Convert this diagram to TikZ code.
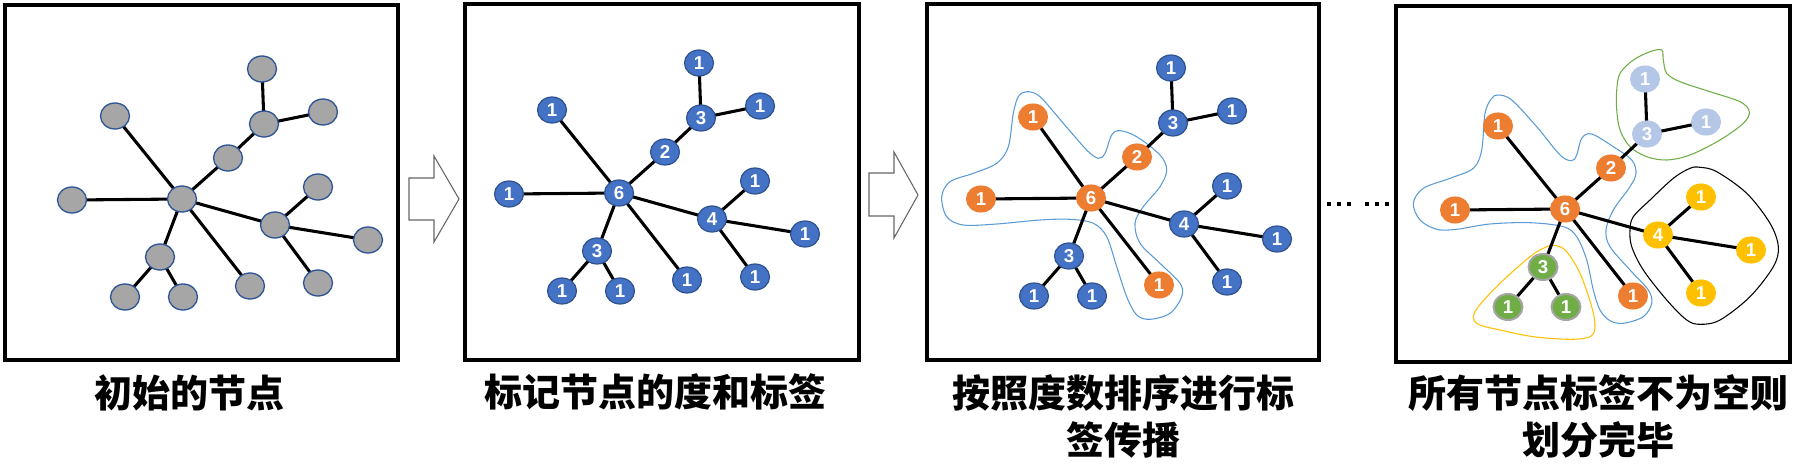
\documentclass[tikz,border=0pt]{standalone}
\usepackage{fontspec}
\newfontfamily\cjk{Noto Sans CJK SC}
\newfontfamily\numfont{Liberation Sans}
\usetikzlibrary{shapes.geometric}
\pgfdeclarelayer{bg}
\pgfsetlayers{bg,main}
\definecolor{ngray}{HTML}{A6A6A6}
\definecolor{nborder}{HTML}{2F5597}
\definecolor{nblue}{HTML}{4472C4}
\definecolor{nbluedk}{HTML}{2F528F}
\definecolor{norange}{HTML}{ED7D31}
\definecolor{nlight}{HTML}{B4C7E7}
\definecolor{ngreen}{HTML}{70AD47}
\definecolor{ngreenbd}{HTML}{A5A5A5}
\definecolor{nyellow}{HTML}{FFC000}
\definecolor{blobblue}{HTML}{5B9BD5}
\tikzset{
  vnode/.style={ellipse, inner sep=0pt, minimum width=21.75pt, minimum height=19.5pt,
    text=white, font=\numfont\bfseries\fontsize{14}{14}\selectfont},
  graynode/.style={vnode, fill=ngray, draw=nborder, line width=1pt},
  bluenode/.style={vnode, fill=nblue, draw=nbluedk, line width=0.9pt},
  orangenode/.style={vnode, fill=norange, draw=norange, line width=0.8pt},
  lightnode/.style={vnode, fill=nlight, draw=nlight, line width=0.8pt},
  greennode/.style={vnode, fill=ngreen, draw=ngreenbd, line width=1.5pt},
  yellownode/.style={vnode, fill=nyellow, draw=nyellow, line width=0.8pt},
  edge/.style={line width=2.3pt, black},
  frame/.style={line width=2.3pt, black},
  blob/.style={line width=0.8pt},
  bigarrow/.style={draw=black!60, line width=0.8pt, fill=white},
  caption/.style={font=\cjk\bfseries\fontsize{28.5}{35}\selectfont, align=center, inner sep=0pt},
  gC/.style={bluenode}, gA/.style={bluenode}, gB/.style={bluenode}, gD/.style={bluenode}
}
\newcommand\lb[1]{#1}
\newcommand\tgraph[3]{%
  \begin{scope}[shift={#2}]
    \node[gC] (#1c6) at (0,0) {\lb{6}};
    \node[gC] (#1a2) at (46,-41) {\lb{2}};
    \node[gA] (#1a3) at (82,-75) {\lb{3}};
    \node[gA] (#1at) at (80,-130) {\lb{1}};
    \node[gA] (#1ar) at (141,-87) {\lb{1}};
    \node[gC] (#1ul) at #3 {\lb{1}};
    \node[gC] (#1l) at (-110,1) {\lb{1}};
    \node[gB] (#1b4) at (93,26) {\lb{4}};
    \node[gB] (#1ba) at (136,-12) {\lb{1}};
    \node[gB] (#1bb) at (186,41) {\lb{1}};
    \node[gB] (#1bc) at (136,84) {\lb{1}};
    \node[gD] (#1d3) at (-22,58) {\lb{3}};
    \node[gD] (#1da) at (-57,98) {\lb{1}};
    \node[gD] (#1db) at (1,98) {\lb{1}};
    \node[gC] (#1e) at (68,87) {\lb{1}};
  \end{scope}
  \begin{pgfonlayer}{bg}
    \draw[edge] (#1c6.center) -- (#1a2.center) -- (#1a3.center) -- (#1at.center);
    \draw[edge] (#1a3.center) -- (#1ar.center);
    \draw[edge] (#1c6.center) -- (#1ul.center);
    \draw[edge] (#1c6.center) -- (#1l.center);
    \draw[edge] (#1c6.center) -- (#1b4.center) -- (#1ba.center);
    \draw[edge] (#1b4.center) -- (#1bb.center);
    \draw[edge] (#1b4.center) -- (#1bc.center);
    \draw[edge] (#1c6.center) -- (#1d3.center) -- (#1da.center);
    \draw[edge] (#1d3.center) -- (#1db.center);
    \draw[edge] (#1c6.center) -- (#1e.center);
  \end{pgfonlayer}
}
\begin{document}
\begin{tikzpicture}[x=0.75pt,y=-0.75pt]
\useasboundingbox (0,0) rectangle (1798,467);
% frames
\draw[frame] (5,5) rectangle (398,360);
\draw[frame] (465,4) rectangle (859,360);
\draw[frame] (927,4) rectangle (1319,360);
\draw[frame] (1396,6) rectangle (1790,362);
% block arrows
\draw[bigarrow] (409,178) -- (434,178) -- (434,156) -- (459,199) -- (434,242) -- (434,220) -- (409,220) -- cycle;
\draw[bigarrow] (869,173) -- (894,173) -- (894,152) -- (918,195) -- (894,238) -- (894,216) -- (869,216) -- cycle;
% dots
\foreach \dx in {1329,1339,1349,1367,1377,1387}
  \fill (\dx-1.6,202.4) rectangle (\dx+1.6,205.6);
% panel 1
\begin{scope}[gC/.style={graynode}, gA/.style={graynode}, gB/.style={graynode}, gD/.style={graynode}]
  \renewcommand\lb[1]{}
  \tgraph{p}{(182,199)}{(-67,-83)}
\end{scope}
% panel 2
\tgraph{q}{(619,193)}{(-67,-83)}
% panel 3
\begin{pgfonlayer}{bg}
\draw[blob, blobblue] plot[smooth cycle, tension=0.55] coordinates {
(941.7,196.7) (950,181.7) (973.3,173.3) (996.7,163.3) (1008.3,146.7) (1013.3,113.3)
(1018.3,96.7) (1026.7,91.7) (1040,96.7) (1063.3,123.3) (1086.7,150) (1098.3,158.3)
(1105,153.3) (1111.7,135) (1120,130.7) (1136.7,136.7) (1160,155) (1166.7,170)
(1160,186.7) (1143.3,206.7) (1135,223.3) (1140,243.3) (1160,263.3) (1180,283.3)
(1181.7,296.7) (1170,313.3) (1150,319.3) (1136.7,315) (1126.7,296.7) (1116.7,266.7)
(1106.7,236.7) (1093.3,223.3) (1070,219.3) (1040,220) (996.7,224) (963.3,225) (946.7,216.7)};
\end{pgfonlayer}
\begin{scope}[gC/.style={orangenode}]
  \tgraph{r}{(1091,198)}{(-58,-81)}
\end{scope}
% panel 4
\begin{pgfonlayer}{bg}
\draw[blob, blobblue] plot[smooth cycle, tension=0.55] coordinates {
(1413.3,203.3) (1423.3,188.3) (1450,178.3) (1473.3,168.3) (1481.7,150) (1485,113.3)
(1491.7,98.3) (1498.3,95) (1511.7,100) (1536.7,126.7) (1560,155) (1571.7,160.7)
(1576.7,155) (1581.7,138.3) (1591.7,134) (1613.3,146.7) (1631.7,160) (1636,173.3)
(1630,186.7) (1613.3,210) (1606,230) (1610,246.7) (1630,270) (1648.3,290)
(1651.7,303.3) (1643.3,316.7) (1623.3,323.3) (1610,320.7) (1600,310) (1593.3,290)
(1586.7,260) (1576.7,236.7) (1563.3,226.7) (1530,222.7) (1490,224) (1456.7,229.3)
(1436.7,229.3) (1420,220)};
\draw[blob, ngreen] plot[smooth cycle, tension=0.55] coordinates {
(1616.7,90) (1620,73.3) (1633.3,60) (1650,51.7) (1661.7,50) (1663.3,60) (1666.7,73.3)
(1680,81.7) (1710,91.7) (1740,101.7) (1749.3,111.7) (1743.3,123.3) (1720,140)
(1690,155) (1666.7,160) (1646.7,156.7) (1630,146.7) (1620,130) (1616.7,110)};
\draw[blob, black] plot[smooth cycle, tension=0.55] coordinates {
(1630,230) (1633.3,216.7) (1650,200) (1673.3,178.3) (1690,168.3) (1700,167.3)
(1716.7,171.7) (1746.7,193.3) (1770,223.3) (1778.3,246.7) (1773.3,266.7) (1750,296.7)
(1720,320) (1700,324.3) (1686.7,320) (1666.7,300) (1643.3,270) (1631.7,246.7)};
\draw[blob, nyellow] plot[smooth cycle, tension=0.55] coordinates {
(1473.3,318.3) (1478.3,306.7) (1500,283.3) (1530,256.7) (1546.7,246.7) (1556.7,245.7)
(1566.7,251.7) (1580,273.3) (1591.7,306.7) (1595,326.7) (1590,336.7) (1570,339.3)
(1533.3,336.7) (1500,330) (1480,325)};
\end{pgfonlayer}
\begin{scope}[gC/.style={orangenode}, gA/.style={lightnode}, gB/.style={yellownode}, gD/.style={greennode}]
  \tgraph{s}{(1565,209)}{(-67,-83)}
\end{scope}
% captions
\node[caption] (cap1) at (189,393) {初始的节点};
\node[caption] (cap2) at (655,392) {标记节点的度和标签};
\node[caption] (cap3) at (1123,416.5) {按照度数排序进行标\\签传播};
\node[caption] (cap4) at (1598,416.5) {所有节点标签不为空则\\划分完毕};
\end{tikzpicture}
\end{document}
